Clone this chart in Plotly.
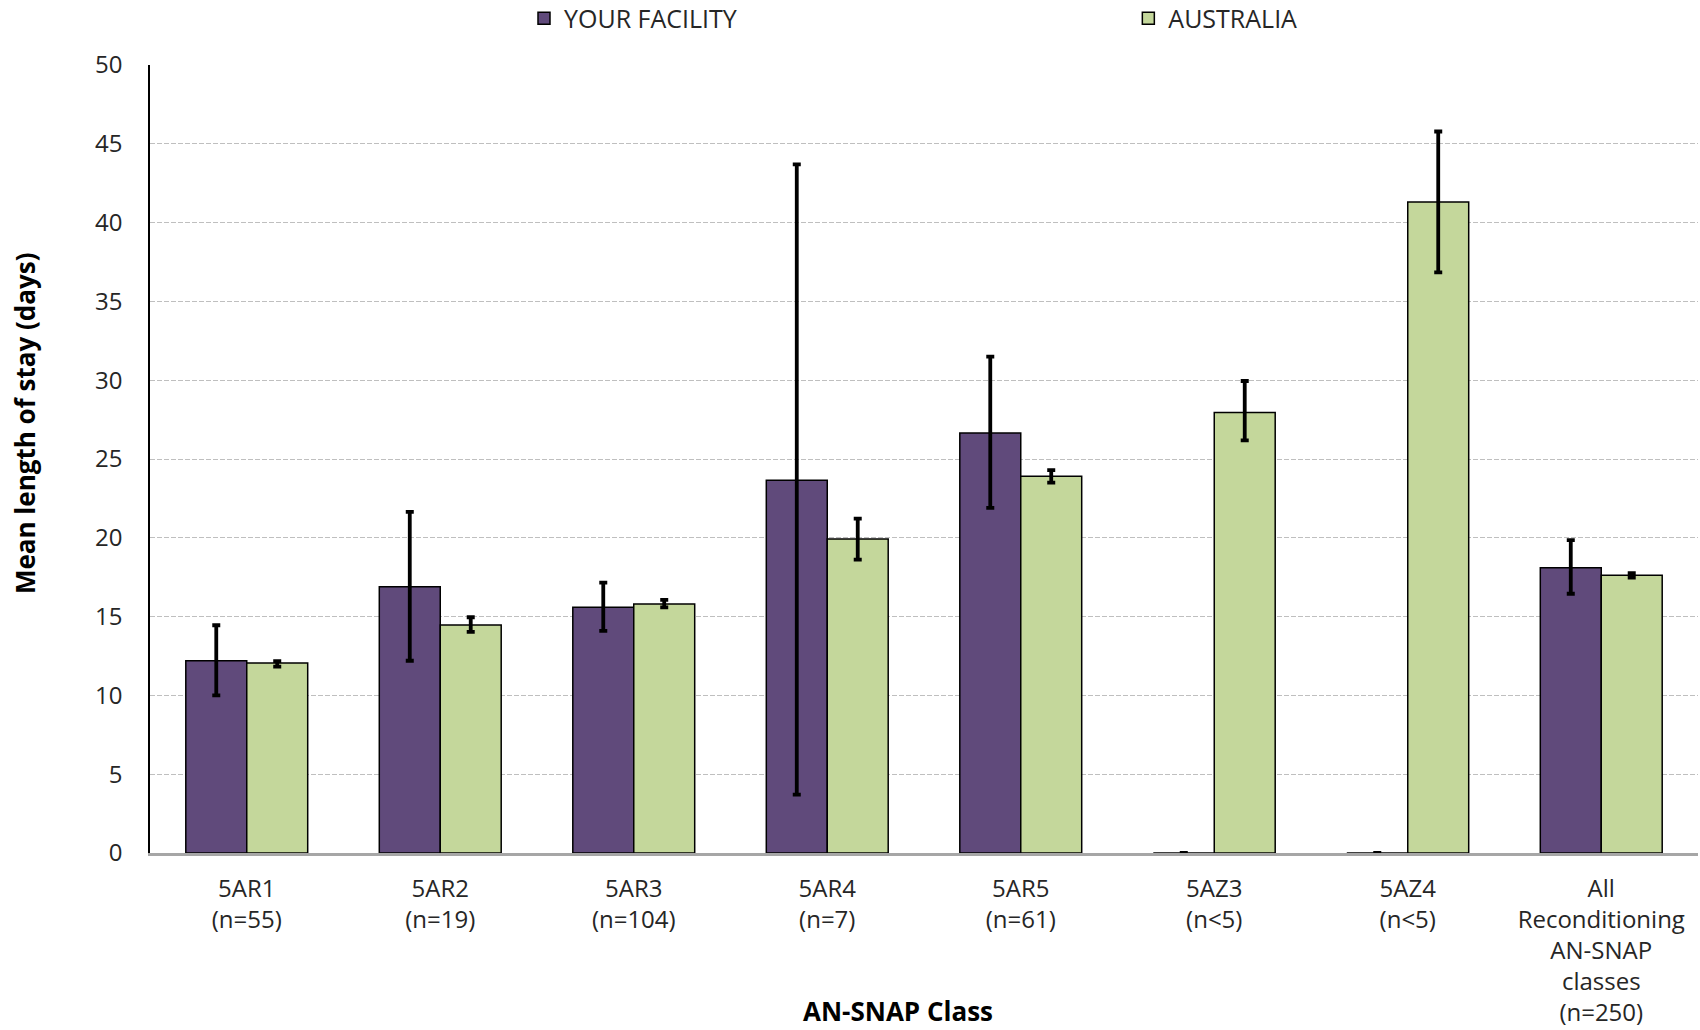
import plotly.graph_objects as go

categories = ["5AR1<br>(n=55)", "5AR2<br>(n=19)", "5AR3<br>(n=104)", "5AR4<br>(n=7)",
              "5AR5<br>(n=61)", "5AZ3<br>(n<5)", "5AZ4<br>(n<5)",
              "All<br>Reconditioning<br>AN-SNAP<br>classes<br>(n=250)"]
facility = [12.2, 16.9, 15.6, 23.65, 26.65, 0, 0, 18.1]
facility_hi = [14.45, 21.65, 17.15, 43.7, 31.5, 0, 0, 19.85]
facility_lo = [10.0, 12.2, 14.1, 3.7, 21.9, 0, 0, 16.45]
australia = [12.05, 14.47, 15.8, 19.92, 23.9, 27.95, 41.3, 17.62]
australia_hi = [12.17, 14.96, 16.06, 21.22, 24.3, 29.95, 45.78, 17.76]
australia_lo = [11.82, 14.03, 15.59, 18.62, 23.5, 26.18, 36.84, 17.47]

FONT = "Open Sans"
TXT = "#262626"

def err(vals, hi, lo):
    return dict(type="data", symmetric=False,
                array=[h - v for h, v in zip(hi, vals)],
                arrayminus=[v - l for v, l in zip(vals, lo)],
                color="black", thickness=3.8, width=4)

fig = go.Figure()
fig.add_trace(go.Bar(name="YOUR FACILITY", x=categories, y=facility, legend="legend",
                     marker=dict(color="#604A7B", line=dict(color="black", width=1.5)),
                     error_y=err(facility, facility_hi, facility_lo)))
fig.add_trace(go.Bar(name="AUSTRALIA", x=categories, y=australia, legend="legend2",
                     marker=dict(color="#C4D79B", line=dict(color="black", width=1.5)),
                     error_y=err(australia, australia_hi, australia_lo)))

leg_common = dict(orientation="h", xanchor="left", y=1.059, yanchor="middle",
                  font=dict(family=FONT, size=25, color=TXT), bgcolor="rgba(0,0,0,0)")
fig.update_layout(
    width=1700, height=1030,
    margin=dict(l=150, r=2, t=65, b=177, autoexpand=False),
    paper_bgcolor="white", plot_bgcolor="white",
    barmode="group", bargap=0.37, bargroupgap=0,
    font=dict(family=FONT, size=22, color=TXT),
    legend=dict(x=0.2416, **leg_common),
    legend2=dict(x=0.632, **leg_common),
    showlegend=True,
)
fig.update_xaxes(showline=True, linecolor="#A6A6A6", linewidth=2.5,
                 showgrid=False, ticks="", ticklabelstandoff=12,
                 tickfont=dict(family=FONT, size=24, color=TXT))
fig.update_yaxes(range=[0, 50], dtick=5, tick0=0, showline=True, linecolor="black",
                 linewidth=1.5, showgrid=True, gridcolor="#BFBFBF", gridwidth=1.3,
                 griddash="5px,2px", zeroline=False, ticks="", ticklabelstandoff=21,
                 tickfont=dict(family=FONT, size=24, color=TXT))

fig.add_annotation(text="<b>Mean length of stay (days)</b>", xref="paper", yref="paper",
                   x=-0.0812, y=0.546, xanchor="center", yanchor="middle", textangle=-90,
                   showarrow=False, font=dict(family=FONT, size=26, color="black"))
fig.add_annotation(text="<b>AN-SNAP Class</b>", xref="paper", yref="paper",
                   x=0.483, y=-0.2, xanchor="center", yanchor="middle",
                   showarrow=False, font=dict(family=FONT, size=26, color="black"))

# remove the browser's default 8px page margin so the figure sits at the window's corner
fig.write_html("out.html", config={"displayModeBar": False},
               post_script="document.body.style.margin='0';")
